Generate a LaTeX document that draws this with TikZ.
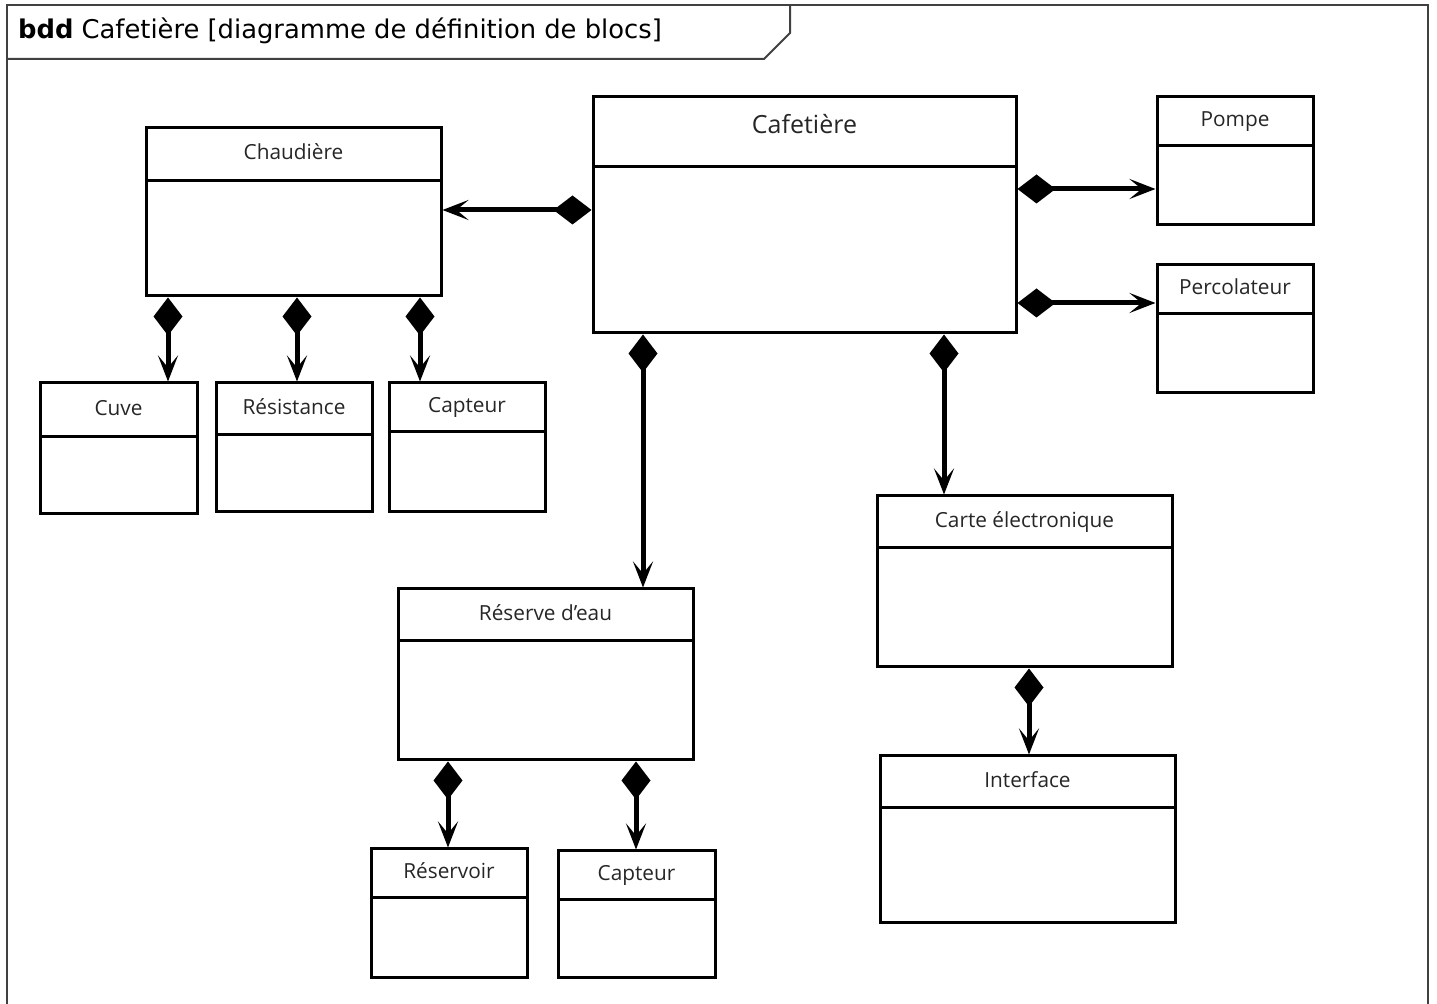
\documentclass[tikz,border=0pt]{standalone}
\usepackage{fontspec}
\setmainfont{Open Sans}
\newfontfamily\entete{DejaVu Sans}
\usetikzlibrary{arrows.meta,fit}

% bloc : nom, x1, y1, x2, y2, y du separateur, titre
\newcommand{\bloc}[7]{%
	\node[bloc, fit={(#2,#3) (#4,#5)}] (#1) {};
	\draw[sep] (#2,#6) -- (#4,#6);
	\node[titre] at ({(#2+#4)/2},{(#3+#6)/2}) {#7};
}

\begin{document}
\begin{tikzpicture}[x=0.5pt, y=-0.5pt]
	\tikzstyle{bloc} = [draw, line width=1.5pt, inner sep=0pt]
	\tikzstyle{sep} = [line width=1.5pt]
	\tikzstyle{titre} = [font=\fontsize{10.4}{12}\selectfont, text=black!85, text height=0.75em, text depth=0.22em]
	\tikzstyle{cadre} = [line width=1pt, draw=black!75]
	\tikzstyle{compo} = [line width=2.5pt, {Diamond[length=19pt, width=14.5pt]}-{Stealth[length=13pt, width=10pt, inset=6pt]}]
	
	\useasboundingbox (0,0) rectangle (1437,1004);
	
	% Cadre du diagramme
	\draw[cadre] (7,1004) -- (7,5) -- (1428,5) -- (1428,1004);
	\draw[cadre] (7,59) -- (764,59) -- (790,33) -- (790,5);
	\node[anchor=west, font=\entete\fontsize{12.9}{15}\selectfont] (entete) at (11,31) {\textbf{bdd} Cafetière [diagramme de définition de blocs]};
	
	% Blocs
	\bloc{caf}{593}{97}{1016}{333}{167}{\fontsize{12.5}{15}\selectfont\raisebox{2pt}{Cafetière}}
	\bloc{chau}{146}{128}{441}{296}{181}{Chaudière}
	\bloc{pompe}{1157}{97}{1313}{225}{146}{Pompe}
	\bloc{perco}{1157}{265}{1313}{393}{314}{Percolateur}
	\bloc{cuve}{40}{383}{197}{514}{437}{Cuve}
	\bloc{resist}{216}{383}{372}{512}{435}{Résistance}
	\bloc{capt}{389}{383}{545}{512}{432}{Capteur}
	\bloc{reserve}{398}{589}{693}{760}{641}{Réserve d’eau}
	\bloc{carte}{877}{496}{1172}{667}{548}{Carte électronique}
	\bloc{interf}{880}{756}{1175}{923}{808}{Interface}
	\bloc{reservoir}{371}{849}{527}{978}{898}{Réservoir}
	\bloc{captb}{558}{851}{715}{978}{900}{Capteur}
	
	% Compositions
	\draw[compo] (caf.west |- 0,210) -- (chau.east |- 0,210);
	\draw[compo] (caf.east |- 0,189) -- (pompe.west |- 0,189);
	\draw[compo] (caf.east |- 0,303) -- (perco.west |- 0,303);
	\draw[compo] (chau.south -| 168,0) -- (cuve.north -| 168,0);
	\draw[compo] (chau.south -| 297,0) -- (resist.north -| 297,0);
	\draw[compo] (chau.south -| 420,0) -- (capt.north -| 420,0);
	\draw[compo] (caf.south -| 643,0) -- (reserve.north -| 643,0);
	\draw[compo] (caf.south -| 944,0) -- (carte.north -| 944,0);
	\draw[compo] (carte.south -| 1029,0) -- (interf.north -| 1029,0);
	\draw[compo] (reserve.south -| 448,0) -- (reservoir.north -| 448,0);
	\draw[compo] (reserve.south -| 636,0) -- (captb.north -| 636,0);
	
\end{tikzpicture}
\end{document}
